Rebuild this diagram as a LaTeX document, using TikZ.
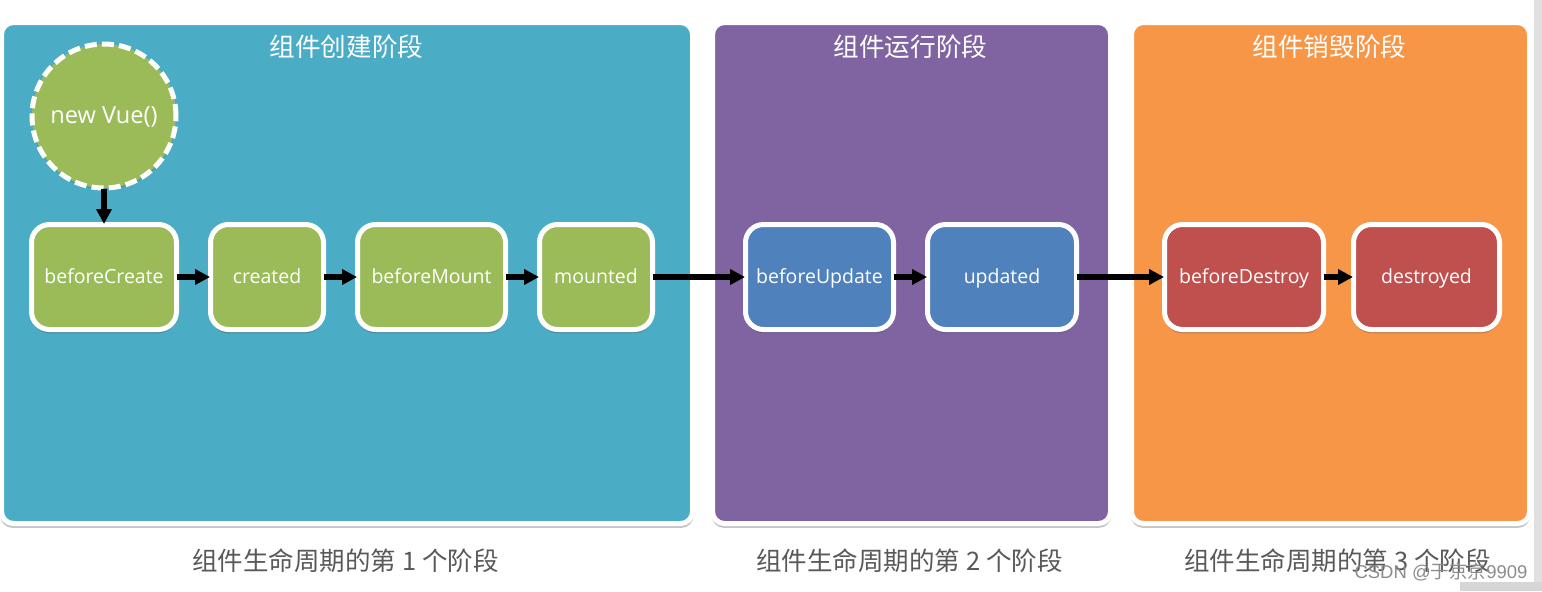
\documentclass[tikz,border=0pt]{standalone}
\usepackage{fontspec}
\setmainfont{Open Sans}
\newfontfamily\cjk{Noto Sans CJK SC}
\newfontfamily\wm{Liberation Sans}
\usetikzlibrary{shadows,arrows.meta}
\definecolor{teal}{HTML}{4BACC6}
\definecolor{purp}{HTML}{8064A2}
\definecolor{oran}{HTML}{F79646}
\definecolor{gren}{HTML}{9BBB59}
\definecolor{blu}{HTML}{4F81BD}
\definecolor{redd}{HTML}{C0504D}
\definecolor{cap}{HTML}{595959}
\tikzset{
  x=0.5pt,y=-0.5pt,
  softshadow/.style={drop shadow={shadow xshift=0pt,shadow yshift=-1.8pt,shadow scale=1.003,opacity=.3,fill=black!75}},
  panel/.style={draw=white,line width=2.5pt,rounded corners=6pt,minimum height=250.5pt,inner sep=0pt,outer sep=0pt,softshadow},
  lifebox/.style={draw=white,line width=2.5pt,rounded corners=9pt,minimum height=52.5pt,inner sep=0pt,outer sep=0.25pt,text=white,text height=6.5pt,text depth=0pt,font=\fontsize{9.75pt}{11pt}\selectfont,softshadow},
  startcircle/.style={circle,draw=white,line width=2.5pt,dash pattern=on 6pt off 2.6pt,minimum size=72pt,inner sep=0pt,outer sep=0.25pt,fill=gren,text=white,text height=7pt,text depth=0pt,font=\fontsize{11.8pt}{13pt}\selectfont,drop shadow={shadow xshift=0pt,shadow yshift=-1pt,opacity=.15,fill=black!75}},
  title/.style={text=white,font=\cjk\fontsize{12.8pt}{14pt}\selectfont,inner sep=0pt},
  caption/.style={text=cap,font=\cjk\fontsize{12.75pt}{14pt}\selectfont,inner sep=0pt},
  flow/.style={-{Triangle[length=7.5pt,width=7.5pt]},line width=2.75pt,black},
}
\begin{document}
\begin{tikzpicture}
\useasboundingbox (0,0) rectangle (1542,591);
\fill[white] (0,0) rectangle (1542,591);
% scrollbar
\fill[black!12] (1534,0) rectangle (1542,591);
\fill[black!16] (1460,582) rectangle (1542,591);
% panels
\node[panel,fill=teal,minimum width=345.5pt] (p1) at (347,273) {};
\node[panel,fill=purp,minimum width=199pt] (p2) at (911.5,273) {};
\node[panel,fill=oran,minimum width=199pt] (p3) at (1330.5,273) {};
% titles
\node[title] (t1) at (346.5,47) {组件创建阶段};
\node[title] (t2) at (910.5,47) {组件运行阶段};
\node[title] (t3) at (1329.5,47) {组件销毁阶段};
% circle
\node[startcircle] (nv) at (104,116) {new Vue()};
% boxes
\node[lifebox,fill=gren,minimum width=72.5pt] (bc) at (104,277) {beforeCreate};
\node[lifebox,fill=gren,minimum width=56.5pt] (cr) at (267,277) {created};
\node[lifebox,fill=gren,minimum width=74pt] (bm) at (431.5,277) {beforeMount};
\node[lifebox,fill=gren,minimum width=56.5pt] (mo) at (596,277) {mounted};
\node[lifebox,fill=blu,minimum width=74pt] (bu) at (819.5,277) {beforeUpdate};
\node[lifebox,fill=blu,minimum width=74.5pt] (up) at (1002,277) {updated};
\node[lifebox,fill=redd,minimum width=79.5pt] (bd) at (1244,277) {beforeDestroy};
\node[lifebox,fill=redd,minimum width=73pt] (de) at (1426.5,277) {destroyed};
% connectors
\draw[flow] (nv) -- (bc);
\draw[flow] (bc) -- (cr);
\draw[flow] (cr) -- (bm);
\draw[flow] (bm) -- (mo);
\draw[flow] (mo) -- (bu);
\draw[flow] (bu) -- (up);
\draw[flow] (up) -- (bd);
\draw[flow] (bd) -- (de);
% captions
\node[caption] (c1) at (345.5,561) {组件生命周期的第 1 个阶段};
\node[caption] (c2) at (909.5,561) {组件生命周期的第 2 个阶段};
\node[caption] (c3) at (1337.5,561) {组件生命周期的第 3 个阶段};
\node[text=black!45,font=\wm\fontsize{9.25pt}{10pt}\selectfont,inner sep=0pt] (w) at (1441,572) {CSDN @{\cjk 于京京}9909};
\end{tikzpicture}
\end{document}
